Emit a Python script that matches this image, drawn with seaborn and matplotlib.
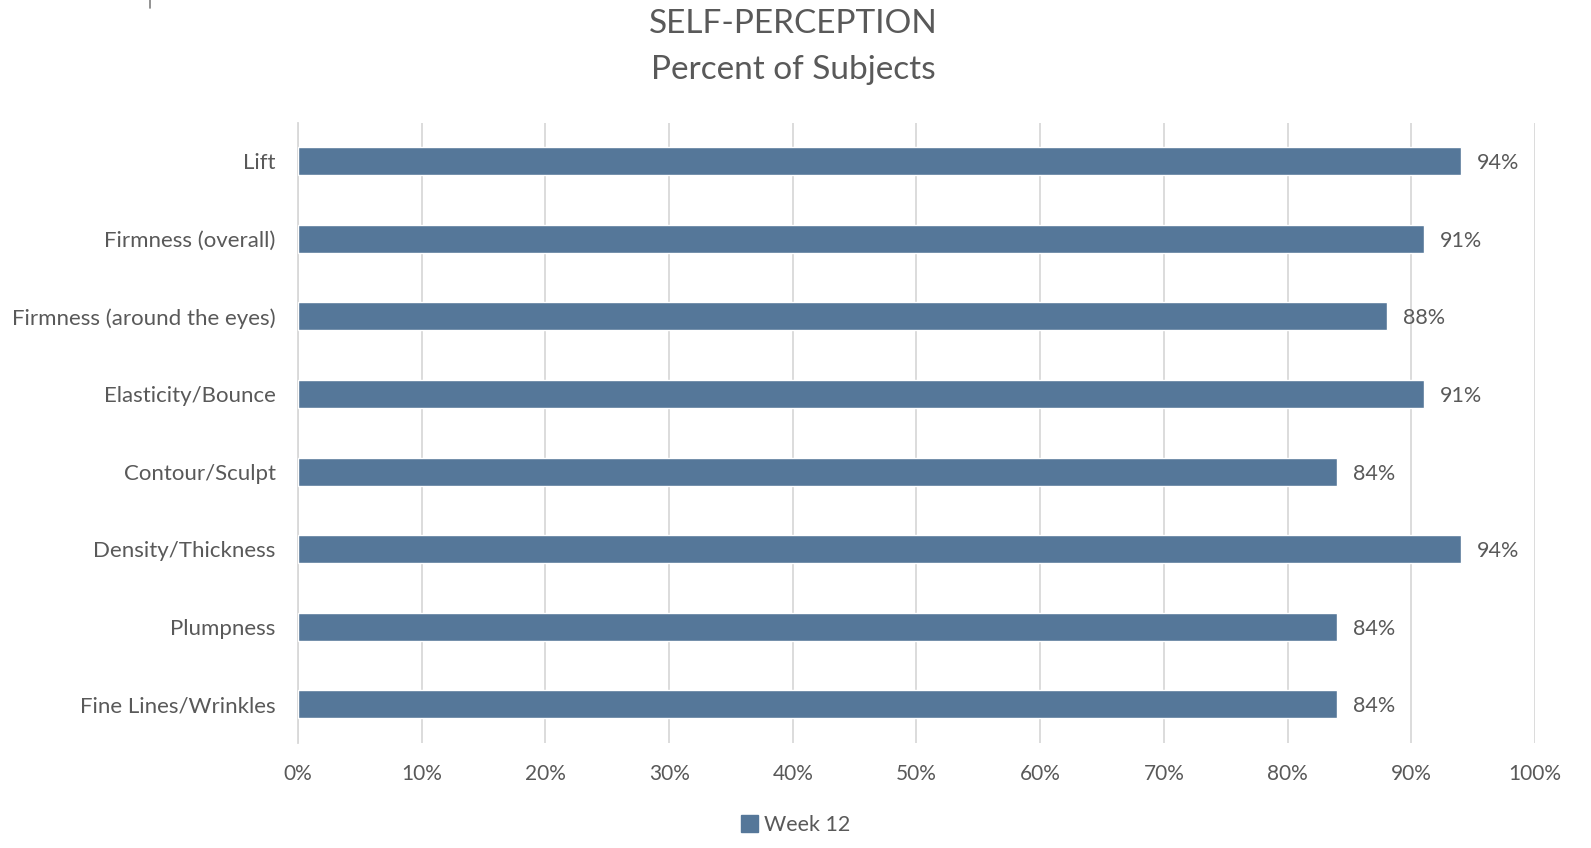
import pandas as pd
import matplotlib
matplotlib.use('Agg')
import matplotlib.pyplot as plt
import seaborn as sns
from matplotlib.lines import Line2D

# Data
categories = ['Lift', 'Firmness (overall)', 'Firmness (around the eyes)',
              'Elasticity/Bounce', 'Contour/Sculpt', 'Density/Thickness',
              'Plumpness', 'Fine Lines/Wrinkles']
week12 = [94, 91, 88, 91, 84, 94, 84, 84]
xticks = [0, 10, 20, 30, 40, 50, 60, 70, 80, 90, 100]

df = pd.DataFrame({'attribute': categories, 'pct': week12})

sns.set_style('white')
plt.rcParams['font.family'] = ['Lato', 'DejaVu Sans']
txt = '#595959'
bar_color = '#557799'

fig = plt.figure(figsize=(15.91, 8.48), dpi=100)
ax = fig.add_axes([0.1873, 0.1238, 0.7775, 0.7317])

sns.barplot(data=df, y='attribute', x='pct', color=bar_color, width=0.36,
            saturation=1, ax=ax, zorder=3)

ax.set_xlim(0, 100)
ax.set_xticks(xticks)
ax.set_xticklabels([f'{t}%' for t in xticks], fontsize=15, color=txt)
ax.tick_params(axis='y', labelsize=16, labelcolor=txt, length=0, pad=16)
ax.tick_params(axis='x', length=0, pad=15)
ax.set_xlabel('')
ax.set_ylabel('')
ax.grid(axis='x', color='#d9d9d9', linewidth=1.3, zorder=0)
for s in ['top', 'right', 'bottom']:
    ax.spines[s].set_visible(False)
ax.spines['left'].set_color('#d9d9d9')
ax.spines['left'].set_linewidth(1.3)

for i, v in enumerate(week12):
    ax.text(v + 1.3, i, f'{v}%', va='center_baseline', ha='left',
            fontsize=15.5, color=txt)

fig.text(0.4985, 0.972, 'SELF-PERCEPTION', ha='center', va='center',
         fontsize=24, color=txt)
fig.text(0.4985, 0.918, 'Percent of Subjects', ha='center', va='center',
         fontsize=24, color=txt)

handles = [plt.Rectangle((0, 0), 1, 1, color=bar_color)]
fig.legend(handles, ['Week 12'], loc='center', bbox_to_anchor=(0.5, 0.027),
           frameon=False, fontsize=15.5, labelcolor=txt, handlelength=0.8,
           handleheight=0.8, handletextpad=0.3)

fig.add_artist(Line2D([150 / 1591, 150 / 1591], [1.0, 1 - 8 / 848],
                      color='#808080', linewidth=1.2, transform=fig.transFigure))

fig.savefig('out.png', dpi=100, facecolor='white')
